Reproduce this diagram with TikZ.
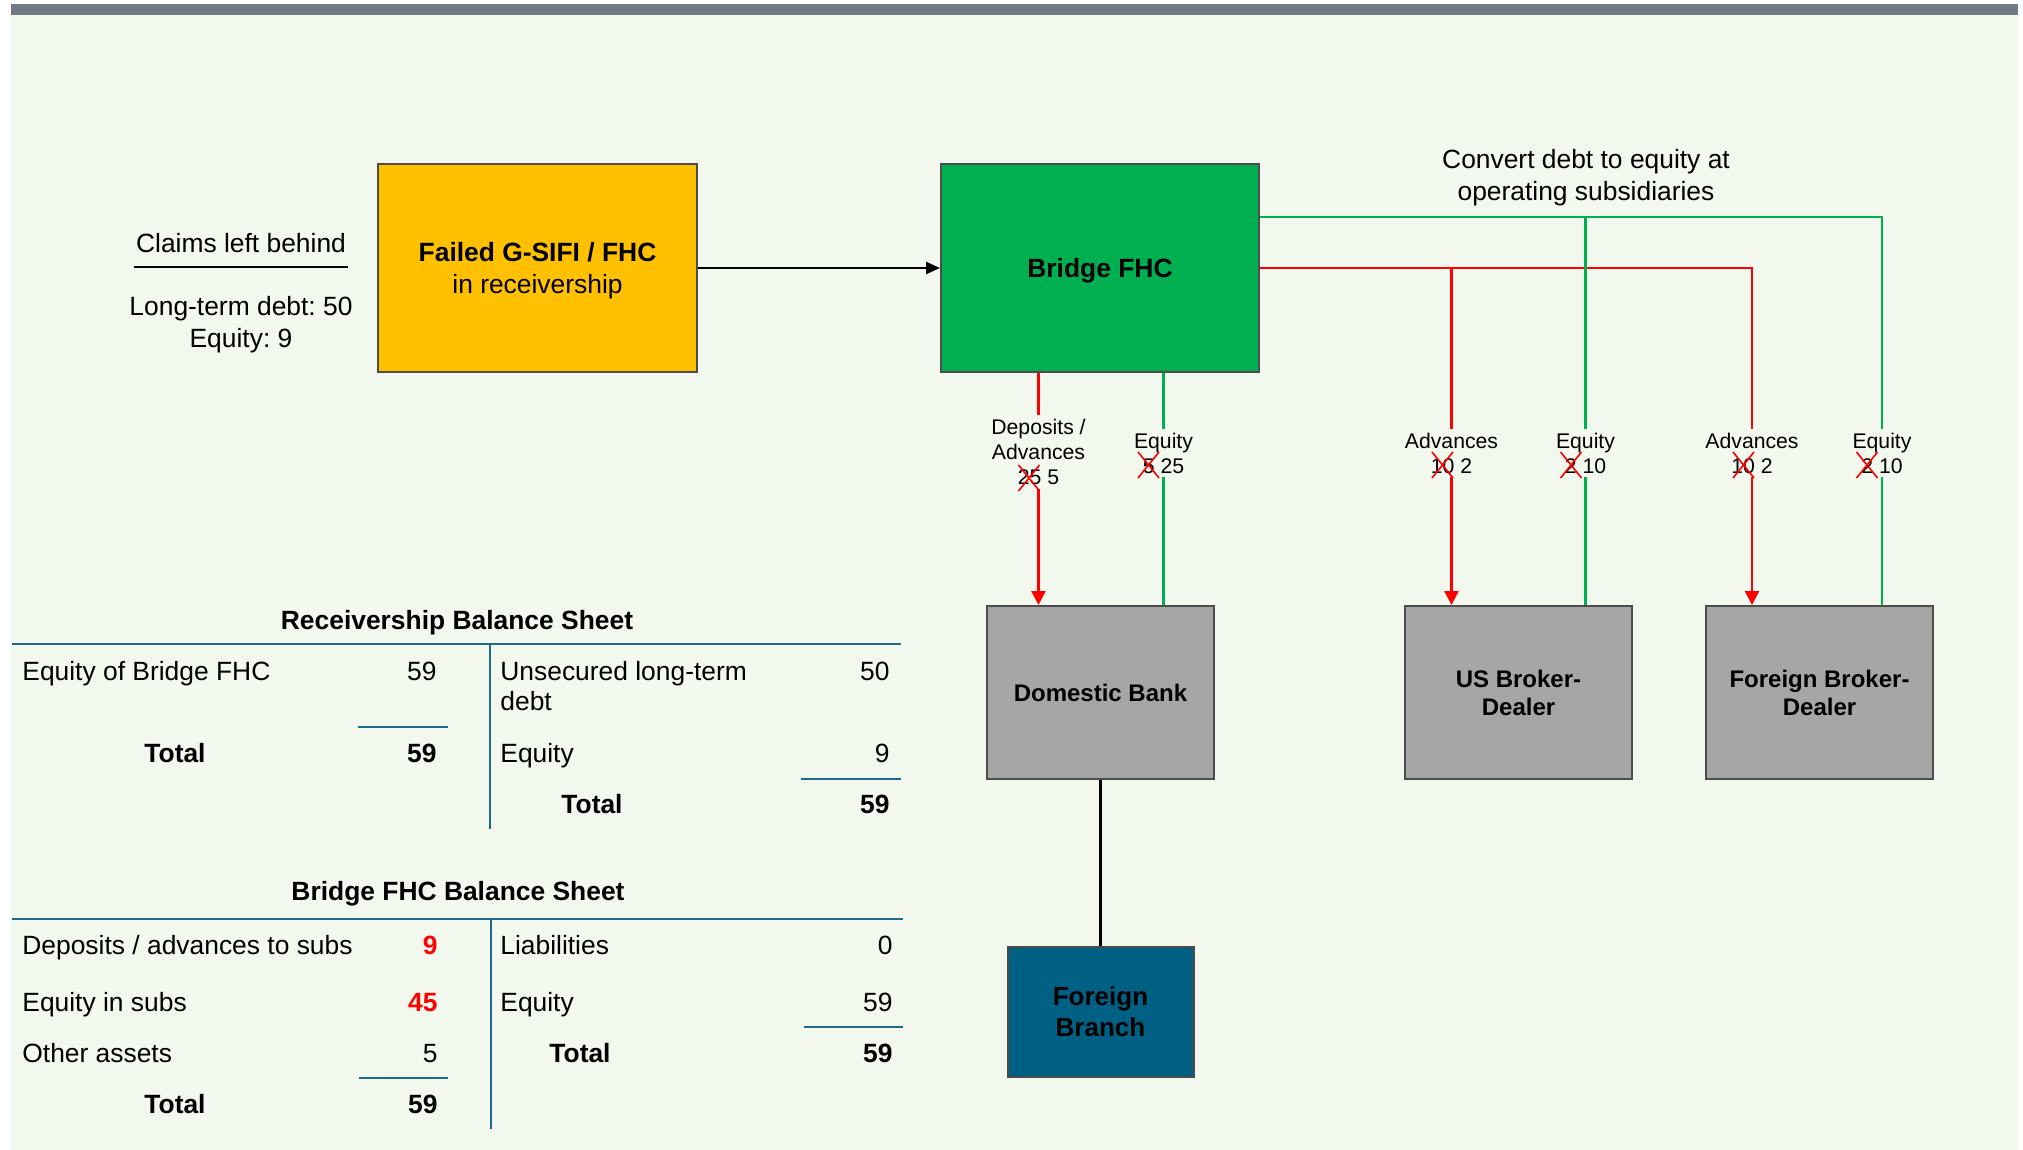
\documentclass[tikz,border=0pt]{standalone}
\usepackage{fontspec}
\setmainfont{Liberation Sans}
\usetikzlibrary{arrows.meta,positioning}
\frenchspacing

\definecolor{bgcol}{HTML}{F3F8EE}
\definecolor{bandcol}{HTML}{6F7A86}
\definecolor{failcol}{HTML}{FFC000}
\definecolor{bridgecol}{HTML}{00AF50}
\definecolor{subcol}{HTML}{A6A6A6}
\definecolor{branchcol}{HTML}{006083}
\definecolor{rulecol}{HTML}{1B6A8C}
\definecolor{flowred}{HTML}{FF0000}
\definecolor{flowgreen}{HTML}{00B050}

\newcommand{\mainsize}{\fontsize{13.2}{16}\selectfont}
\newcommand{\labsize}{\fontsize{10.6}{12.5}\selectfont}
\newcommand{\boxsize}{\fontsize{12}{14}\selectfont\bfseries}

\tikzset{
  entity/.style={draw=black!70, line width=1pt, inner sep=0pt, align=center, font=\boxsize},
  subbox/.style={entity, fill=subcol, minimum width=113.5pt, minimum height=86.5pt},
  redflow/.style={flowred, line width=1.2pt, -{Triangle[length=7pt,width=7pt]}},
  greenflow/.style={flowgreen, line width=1.2pt},
  flowlbl/.style={fill=bgcol, inner sep=2pt, align=center, font=\labsize},
  xout/.pic={\draw[flowred, line width=0.8pt] (-10.5,-13) -- (10.5,13) (-10.5,13) -- (10.5,-13);},
  cell/.style={inner sep=0pt, font=\mainsize},
  txt/.style={cell, anchor=base west},
  num/.style={cell, anchor=base east},
  tot/.style={cell, anchor=base, font=\mainsize\bfseries},
  bsrule/.style={rulecol, line width=1pt}
}

\begin{document}
\begin{tikzpicture}[x=0.5pt, y=-0.5pt]
    \useasboundingbox (0,0) rectangle (2023,1150);
    \fill[bgcol] (11,4) rectangle (2018,1150);
    \fill[bandcol] (11,4) rectangle (2018,15);

    % entities
    \node[entity, fill=failcol, minimum width=159.5pt, minimum height=104pt, text depth=0pt, font=\mainsize] (failed) at (537.5,268) {\textbf{Failed G-SIFI / FHC}\\in receivership};
    \node[entity, fill=bridgecol, minimum width=159pt, minimum height=104pt, text depth=0pt, font=\mainsize\bfseries] (bridge) at (1100,268) {Bridge FHC};
    \node[subbox] (dombank) at (1100.5,692.5) {Domestic Bank};
    \node[subbox] (usbd) at (1518.5,692.5) {US Broker-\\Dealer};
    \node[subbox] (forbd) at (1819.5,692.5) {Foreign Broker-\\Dealer};
    \node[entity, fill=branchcol, minimum width=93pt, minimum height=65pt, font=\fontsize{13}{15.5}\selectfont\bfseries] (branch) at (1100.5,1012) {Foreign\\Branch};

    % claims left behind
    \node[tot, font=\mainsize] (claims) at (241,252.5) {Claims left behind};
    \draw[line width=1pt] (134,267) -- (348,267);
    \node[cell, anchor=north, align=center] (claimvals) at (241,295.5) {Long-term debt: 50\\Equity: 9};
    \node[cell, anchor=north, align=center] (convert) at (1586,148.5) {Convert debt to equity at\\operating subsidiaries};

    % flows
    \draw[line width=1.2pt, -{Triangle[length=7pt,width=6pt]}] (failed) -- (bridge);
    \coordinate (domred) at ([xshift=-31pt]dombank.north);
    \coordinate (domgreen) at ([xshift=31.5pt]dombank.north);
    \coordinate (usred) at ([xshift=-33.5pt]usbd.north);
    \coordinate (usgreen) at ([xshift=33.5pt]usbd.north);
    \coordinate (frred) at ([xshift=-33.75pt]forbd.north);
    \coordinate (frgreen) at ([xshift=31.25pt]forbd.north);
    \coordinate (gtap) at ([yshift=-27pt]bridge.north east);

    \draw[redflow] (bridge.south -| domred) -- (domred);
    \draw[greenflow] (bridge.south -| domgreen) -- (domgreen);
    \draw[redflow] (bridge.east) -| (frred);
    \draw[redflow] (bridge.east -| usred) -- (usred);
    \draw[greenflow] (gtap) -| (frgreen);
    \draw[greenflow] (gtap -| usgreen) -- (usgreen);
    \draw[line width=1.2pt] (dombank) -- (branch);

    \node[flowlbl] (depl) at (1038.5,452) {Deposits /\\Advances\\25 5};
    \node[flowlbl] (domeq) at (1163.5,453) {Equity\\5 25};
    \node[flowlbl] (usadv) at (1451.5,453) {Advances\\10 2};
    \node[flowlbl] (useq) at (1585.5,453) {Equity\\2 10};
    \node[flowlbl] (fradv) at (1752,453) {Advances\\10 2};
    \node[flowlbl] (freq) at (1882,453) {Equity\\2 10};
    \pic at (1029,478) {xout};
    \pic at (1148.5,465) {xout};
    \pic at (1442.5,465) {xout};
    \pic at (1571,465) {xout};
    \pic at (1743.5,465) {xout};
    \pic at (1867,465) {xout};

    % receivership balance sheet
    \node[tot] (rbstitle) at (457,629) {Receivership Balance Sheet};
    \draw[bsrule] (12,644) -- (901,644) (490,644) -- (490,829);
    \node[txt] (rbs1) at (22,680) {Equity of Bridge FHC};
    \node[num] (rbs1v) at (437,680) {59};
    \draw[bsrule] (358,727) -- (448,727);
    \node[tot] (rbstot) at (175,762) {Total};
    \node[num, font=\mainsize\bfseries] (rbstotv) at (437,762) {59};
    \node[cell, anchor=north west, align=left, font=\fontsize{13.2}{15}\selectfont] (rbs2) at (500,661) {Unsecured long-term\\debt};
    \node[num] (rbs2v) at (890,680) {50};
    \node[txt] (rbs3) at (500,762) {Equity};
    \node[num] (rbs3v) at (890,762) {9};
    \draw[bsrule] (801,779) -- (901,779);
    \node[tot] (rbsrtot) at (592,813) {Total};
    \node[num, font=\mainsize\bfseries] (rbsrtotv) at (890,813) {59};

    % bridge FHC balance sheet
    \node[tot] (bbstitle) at (458,900.5) {Bridge FHC Balance Sheet};
    \draw[bsrule] (12,919) -- (903,919) (491,919) -- (491,1129);
    \node[txt] (bbs1) at (22,954) {Deposits / advances to subs};
    \node[num, font=\mainsize\bfseries, text=flowred] (bbs1v) at (438,954) {9};
    \node[txt] (bbs2) at (22,1011) {Equity in subs};
    \node[num, font=\mainsize\bfseries, text=flowred] (bbs2v) at (438,1011) {45};
    \node[txt] (bbs3) at (22,1062) {Other assets};
    \node[num] (bbs3v) at (438,1062) {5};
    \draw[bsrule] (359,1078) -- (448,1078);
    \node[tot] (bbstot) at (175,1113) {Total};
    \node[num, font=\mainsize\bfseries] (bbstotv) at (438,1113) {59};
    \node[txt] (bbs4) at (500,954) {Liabilities};
    \node[num] (bbs4v) at (893,954) {0};
    \node[txt] (bbs5) at (500,1011) {Equity};
    \node[num] (bbs5v) at (893,1011) {59};
    \draw[bsrule] (804,1027) -- (903,1027);
    \node[tot] (bbsrtot) at (580,1062) {Total};
    \node[num, font=\mainsize\bfseries] (bbsrtotv) at (893,1062) {59};

\end{tikzpicture}
\end{document}
